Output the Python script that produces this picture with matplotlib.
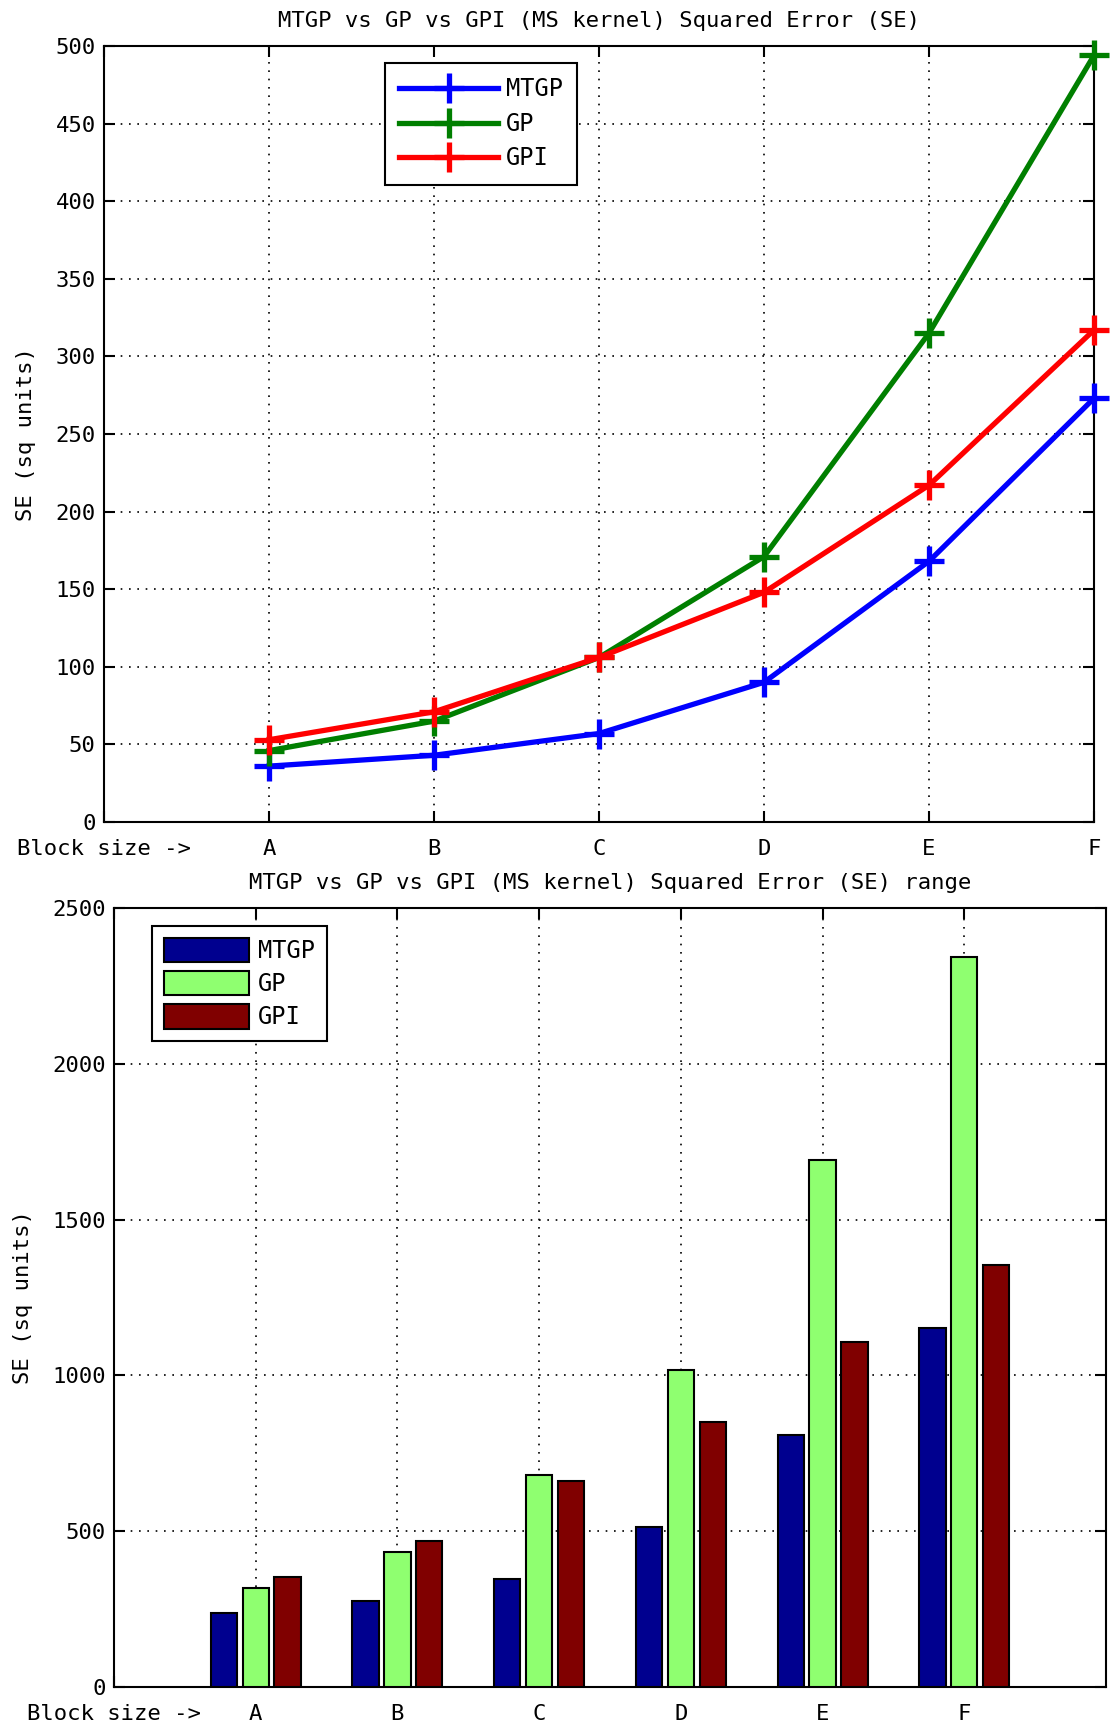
import matplotlib

matplotlib.use("Agg")
import matplotlib.pyplot as plt

# x tick labels (first tick carries the axis caption, as in the original)
tick_labels = ["Block size ->", "A", "B", "C", "D", "E", "F"]
blocks = ["A", "B", "C", "D", "E", "F"]
series = ["MTGP", "GP", "GPI"]

# mean squared error per block size
se_mtgp = [36, 43, 57, 90, 168, 273]
se_gp = [46, 65, 106, 171, 315, 494]
se_gpi = [53, 71, 106, 148, 217, 317]

# squared error range per block size
rng_mtgp = [238, 276, 347, 515, 808, 1152]
rng_gp = [317, 434, 681, 1016, 1691, 2342]
rng_gpi = [354, 470, 661, 849, 1107, 1354]

line_colors = ["#0000ff", "#007f00", "#ff0000"]
bar_colors = ["#00008f", "#8fff70", "#800000"]

FONT = "DejaVu Sans Mono"
FS = 16

plt.rcParams["font.family"] = FONT
plt.rcParams["font.size"] = FS


def style_axes(ax):
    ax.tick_params(direction="in", length=8, width=1.5, top=True, right=True,
                   labelsize=FS, pad=6)
    ax.tick_params(axis="x", pad=12)
    ax.grid(True, linestyle=(0, (1, 4)), color="black", linewidth=1.2)
    for s in ax.spines.values():
        s.set_linewidth(1.5)


fig = plt.figure(figsize=(11.10, 17.27), dpi=100)
W, H = 1110.0, 1727.0

# ---- top: line chart ----
ax1 = fig.add_axes([104 / W, 1 - 822 / H, (1094 - 104) / W, (822 - 46) / H])
x = list(range(1, len(blocks) + 1))
for vals, name, c in zip([se_mtgp, se_gp, se_gpi], series, line_colors):
    ax1.plot(x, vals, color=c, linewidth=3.8, marker="+", markersize=22,
             markeredgewidth=3.8, label=name, clip_on=False, zorder=3)
ax1.set_xlim(0, 6)
ax1.set_ylim(0, 500)
ax1.set_xticks(range(len(tick_labels)))
ax1.set_xticklabels(tick_labels)
ax1.set_yticks(range(0, 501, 50))
ax1.set_ylabel("SE (sq units)", fontsize=FS, labelpad=14)
ax1.set_title("MTGP vs GP vs GPI (MS kernel) Squared Error (SE)", fontsize=FS, pad=14)
style_axes(ax1)
leg1 = ax1.legend(loc="upper left", bbox_to_anchor=(0.284, 0.978), borderaxespad=0,
                  fontsize=FS + 1, handlelength=4.2, handletextpad=0.3, borderpad=0.6,
                  labelspacing=0.45, fancybox=False, framealpha=1, edgecolor="black")
leg1.get_frame().set_linewidth(1.5)

# ---- bottom: grouped bars ----
ax2 = fig.add_axes([114 / W, 1 - 1687 / H, (1106 - 114) / W, (1687 - 908) / H])
bw = 0.185
step = 0.225
for i, (vals, name, c) in enumerate(zip([rng_mtgp, rng_gp, rng_gpi], series, bar_colors)):
    xs = [xi + (i - 1) * step for xi in x]
    ax2.bar(xs, vals, width=bw, color=c, edgecolor="black", linewidth=1.5,
            label=name, zorder=3)
ax2.set_xlim(0, 7)
ax2.set_ylim(0, 2500)
ax2.set_xticks(range(len(tick_labels)))
ax2.set_xticklabels(tick_labels)
ax2.set_yticks(range(0, 2501, 500))
ax2.set_ylabel("SE (sq units)", fontsize=FS, labelpad=14)
ax2.set_title("MTGP vs GP vs GPI (MS kernel) Squared Error (SE) range", fontsize=FS, pad=14)
style_axes(ax2)
leg2 = ax2.legend(loc="upper left", bbox_to_anchor=(0.038, 0.977), borderaxespad=0,
                  fontsize=FS + 1, handlelength=3.6, handleheight=1.2, handletextpad=0.4,
                  borderpad=0.5, labelspacing=0.35, fancybox=False, framealpha=1,
                  edgecolor="black")
leg2.get_frame().set_linewidth(1.5)

fig.savefig("out.png", dpi=100, facecolor="white")
